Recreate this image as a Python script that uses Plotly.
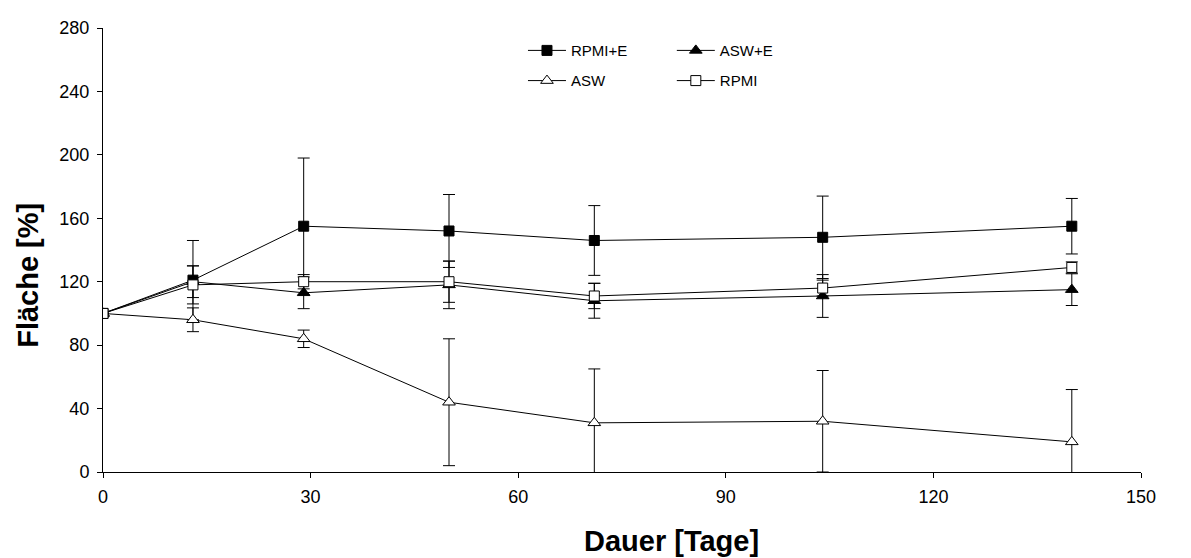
import plotly.graph_objects as go

days = [0, 13, 29, 50, 71, 104, 140]

rpmi_e = [100, 121, 155, 152, 146, 148, 155]
rpmi_e_err = [0, 25, 43, 23, 22, 26, 17.5]

asw_e = [100, 120, 113, 118, 108, 111, 115]
asw_e_err = [0, 10, 10, 15, 11, 13.5, 10]

asw = [100, 96, 84, 44, 31, 32, 19]
asw_err = [0, 7.5, 5.5, 40, 34, 32, 33]

rpmi = [100, 118, 120, 120, 111, 116, 129]
rpmi_err = [0, 12, 4.5, 13, 8, 5, 3.5]

x_ticks = [0, 30, 60, 90, 120, 150]
y_ticks = [0, 40, 80, 120, 160, 200, 240, 280]

x_title = "Dauer [Tage]"
y_title = "Fläche [%]"

# name, values, errors, symbol, fill, size, legend
series = [
    ("RPMI+E", rpmi_e, rpmi_e_err, "square", "black", 10, "legend"),
    ("ASW+E", asw_e, asw_e_err, "triangle-up", "black", 11, "legend2"),
    ("ASW", asw, asw_err, "triangle-up", "white", 11, "legend3"),
    ("RPMI", rpmi, rpmi_err, "square", "white", 10, "legend4"),
]

fig = go.Figure()
for name, vals, err, sym, fill, size, leg in series:
    fig.add_trace(go.Scatter(
        x=days, y=vals, name=name, mode="lines+markers",
        line=dict(color="black", width=1),
        marker=dict(symbol=sym, size=size, color=fill,
                    line=dict(color="black", width=1)),
        error_y=dict(type="data", array=err, visible=True, color="black",
                     thickness=1, width=6),
        legend=leg, showlegend=True,
    ))

font = "Liberation Sans, Arial, sans-serif"
leg_common = dict(font=dict(family=font, size=15, color="black"), bgcolor="rgba(0,0,0,0)",
                  xanchor="left", yanchor="middle", itemwidth=38)
axis_common = dict(ticks="outside", ticklen=5, tickcolor="black", showline=True,
                   linecolor="black", linewidth=1, showgrid=False, zeroline=False,
                   tickfont=dict(family=font, size=18, color="black"))
fig.update_layout(
    width=1191, height=558,
    showlegend=True,
    margin=dict(l=95, r=58, t=10, b=94),
    paper_bgcolor="white", plot_bgcolor="white",
    font=dict(family=font, size=18, color="black"),
    legend=dict(x=0.4046, y=0.949, **leg_common),
    legend2=dict(x=0.548, y=0.949, **leg_common),
    legend3=dict(x=0.4046, y=0.881, **leg_common),
    legend4=dict(x=0.548, y=0.881, **leg_common),
    xaxis=dict(range=[0, 150], tickvals=x_ticks, ticklabelstandoff=3, **axis_common),
    yaxis=dict(range=[0, 280], tickvals=y_ticks, ticklabelstandoff=4, **axis_common),
    annotations=[
        dict(text="<b>" + x_title + "</b>", xref="paper", yref="paper",
             x=0.548, y=-0.156, xanchor="center", yanchor="middle", showarrow=False,
             font=dict(family=font, size=29, color="black")),
        dict(text="<b>" + y_title + "</b>", xref="paper", yref="paper",
             x=-0.0723, y=0.444, xanchor="center", yanchor="middle", showarrow=False,
             textangle=-90, font=dict(family=font, size=29, color="black")),
    ],
)

fig.write_html("out.html")
